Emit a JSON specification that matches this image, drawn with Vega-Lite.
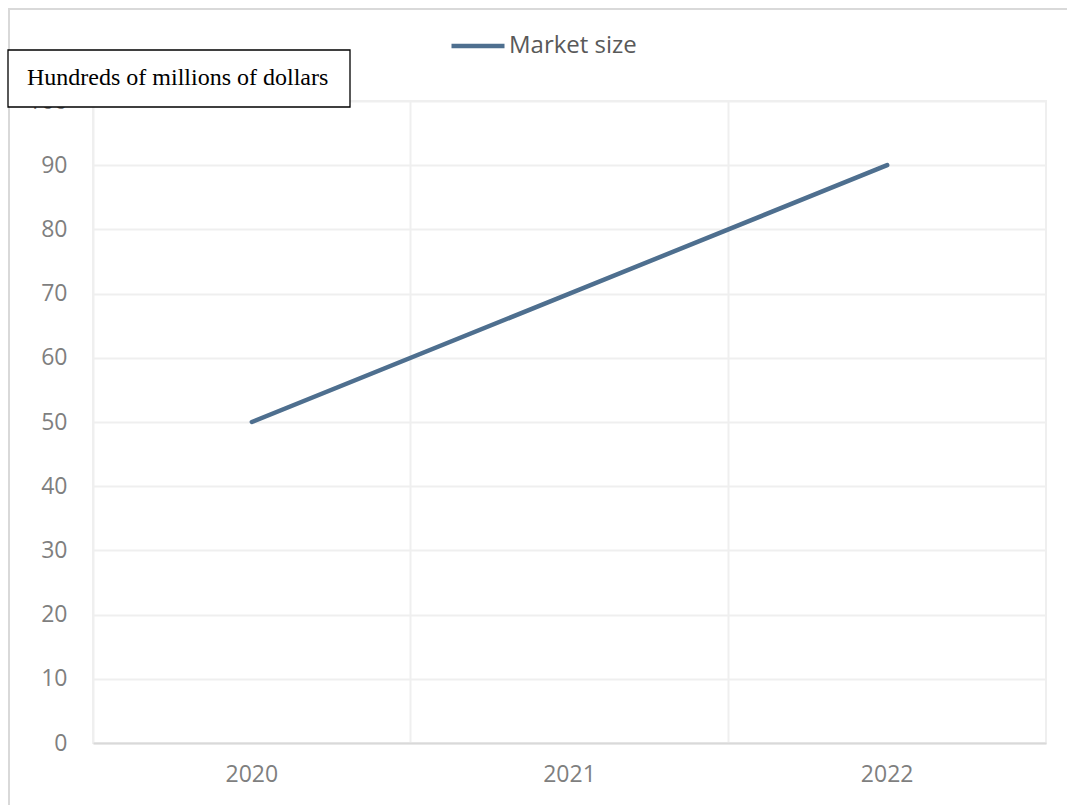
{
  "$schema": "https://vega.github.io/schema/vega-lite/v6.json",
  "width": 953,
  "height": 642,
  "autosize": {"type": "none"},
  "padding": {"left": 93, "top": 101, "right": 21, "bottom": 62},
  "background": "white",
  "config": {
    "view": {"stroke": "#efefef", "strokeWidth": 2},
    "font": "Open Sans"
  },
  "datasets": {
    "market": [
      {"year": "2020", "series": "Market size", "value": 50},
      {"year": "2021", "series": "Market size", "value": 70},
      {"year": "2022", "series": "Market size", "value": 90}
    ],
    "note": [
      {"label": "Hundreds of millions of dollars"}
    ]
  },
  "layer": [
    {
      "data": {"name": "note"},
      "mark": {"type": "rect", "fillOpacity": 0, "stroke": "#d9d9d9", "strokeWidth": 2},
      "encoding": {
        "x": {"value": -84},
        "x2": {"value": 990},
        "y": {"value": -92},
        "y2": {"value": 720}
      }
    },
    {
      "data": {"name": "market"},
      "mark": {"type": "line", "strokeWidth": 4.5, "strokeCap": "round"},
      "encoding": {
        "x": {
          "field": "year",
          "type": "ordinal",
          "scale": {"type": "band", "paddingInner": 0, "paddingOuter": 0},
          "axis": {
            "title": null,
            "bandPosition": 0,
            "grid": true,
            "gridColor": "#efefef",
            "gridWidth": 2,
            "ticks": false,
            "domain": true,
            "domainColor": "#d9d9d9",
            "domainWidth": 2,
            "labelFontSize": 23,
            "labelColor": "#7f7f7f",
            "labelPadding": 20,
            "labelAngle": 0,
            "labelFont": "Open Sans"
          }
        },
        "y": {
          "field": "value",
          "type": "quantitative",
          "scale": {"domain": [0, 100], "nice": false},
          "axis": {
            "title": null,
            "values": [0, 10, 20, 30, 40, 50, 60, 70, 80, 90, 100],
            "grid": true,
            "gridColor": "#efefef",
            "gridWidth": 2,
            "ticks": false,
            "domain": false,
            "labelFontSize": 23,
            "labelColor": "#7f7f7f",
            "labelPadding": 26,
            "labelFont": "Open Sans"
          }
        },
        "color": {
          "field": "series",
          "type": "nominal",
          "scale": {"range": ["#4e6f8f"]},
          "legend": {
            "title": null,
            "orient": "none",
            "legendX": 356,
            "legendY": -84,
            "symbolType": "stroke",
            "symbolSize": 2809,
            "symbolStrokeWidth": 4.5,
            "labelFontSize": 24,
            "labelColor": "#595959",
            "labelFont": "Open Sans",
            "labelOffset": 2
          }
        }
      }
    },
    {
      "data": {"name": "note"},
      "mark": {"type": "rect", "fill": "white", "stroke": "black", "strokeWidth": 1.3},
      "encoding": {
        "x": {"value": -85},
        "x2": {"value": 257},
        "y": {"value": -51},
        "y2": {"value": 6}
      }
    },
    {
      "data": {"name": "note"},
      "mark": {"type": "text", "align": "left", "baseline": "middle", "font": "Liberation Serif", "fontSize": 24, "color": "black"},
      "encoding": {
        "text": {"field": "label"},
        "x": {"value": -66},
        "y": {"value": -23}
      }
    }
  ]
}
